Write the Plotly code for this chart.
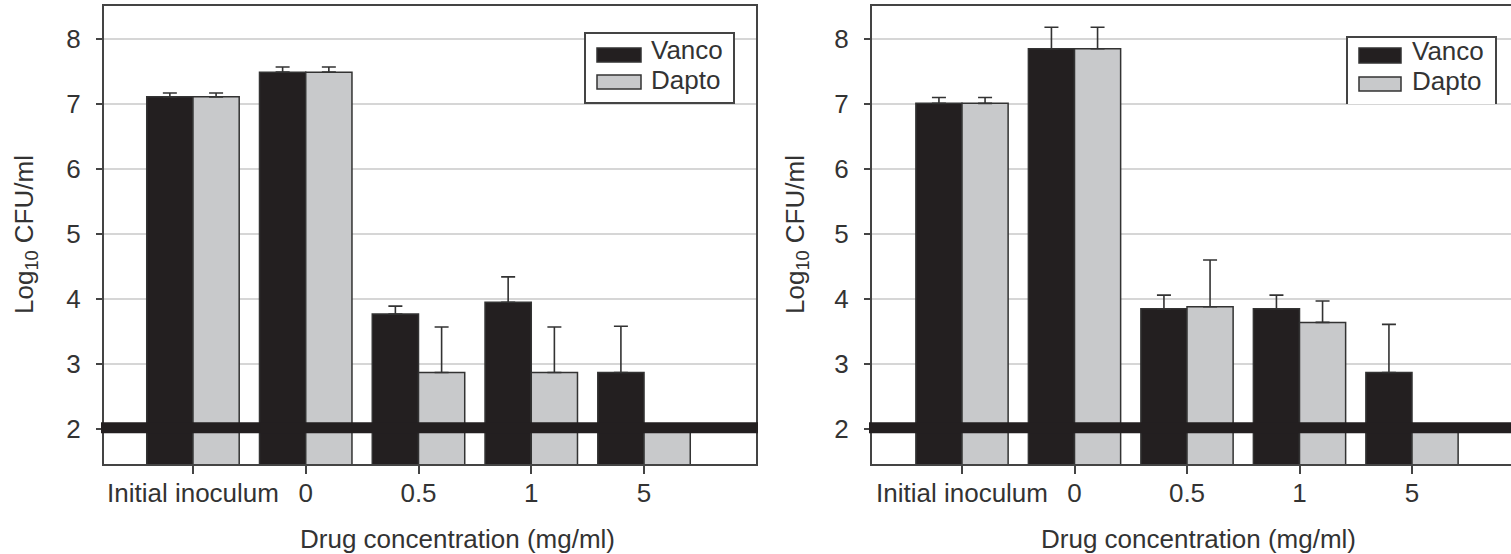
import plotly.graph_objects as go

# ---------------- data ----------------
categories = ["Initial inoculum", "0", "0.5", "1", "5"]
series_names = ["Vanco", "Dapto"]

left_vanco = [7.11, 7.49, 3.77, 3.95, 2.87]
left_vanco_err = [0.06, 0.08, 0.12, 0.39, 0.71]
left_dapto = [7.11, 7.49, 2.87, 2.87, 2.00]
left_dapto_err = [0.06, 0.08, 0.70, 0.70, 0.0]

right_vanco = [7.01, 7.85, 3.85, 3.85, 2.87]
right_vanco_err = [0.09, 0.33, 0.21, 0.21, 0.74]
right_dapto = [7.01, 7.85, 3.88, 3.64, 2.00]
right_dapto_err = [0.09, 0.33, 0.72, 0.33, 0.0]

detection_limit = 2.02
y_ticks = [2, 3, 4, 5, 6, 7, 8]

# ---------------- styling ----------------
W, H = 1511, 554
FONT = "Liberation Sans, Arial, sans-serif"
TXT = "#333333"
BLACK = "#231f20"
GREY = "#c8c9cb"
EDGE = "#333333"
FRAME = "#444444"
GRID = "#d6d6d6"

def px_x(p):
    return p / W

def px_y(p):
    return 1 - p / H

xpos = list(range(len(categories)))

fig = go.Figure()

def add_panel(vanco, verr, dapto, derr, xa, ya):
    for name, vals, errs, col in [(series_names[0], vanco, verr, BLACK),
                                  (series_names[1], dapto, derr, GREY)]:
        fig.add_trace(go.Bar(
            x=xpos, y=vals, name=name, xaxis=xa, yaxis=ya,
            marker=dict(color=col, line=dict(color=EDGE, width=1.5)),
            error_y=dict(type="data", array=errs, arrayminus=[0] * len(errs),
                         symmetric=False, color=EDGE, thickness=1.6, width=7),
            showlegend=False, hoverinfo="skip",
        ))

add_panel(left_vanco, left_vanco_err, left_dapto, left_dapto_err, "x", "y")
add_panel(right_vanco, right_vanco_err, right_dapto, right_dapto_err, "x2", "y2")

ydom = [px_y(464), px_y(6)]
yrange = [2 - 35 / 65, 2 + 423 / 65]

xcommon = dict(
    tickmode="array", tickvals=xpos, ticktext=categories,
    ticks="outside", ticklen=8, tickwidth=1.5, tickcolor=FRAME,
    showline=True, linecolor=FRAME, linewidth=2, mirror=True,
    showgrid=False, zeroline=False, layer="below traces",
    tickfont=dict(family=FONT, size=26, color=TXT),
    ticklabelstandoff=-3,
)
ycommon = dict(
    range=yrange, domain=ydom, tickmode="array", tickvals=y_ticks,
    ticks="outside", ticklen=6, tickwidth=1.5, tickcolor=FRAME,
    showline=True, linecolor=FRAME, linewidth=2,
    showgrid=True, gridcolor=GRID, gridwidth=1.5, zeroline=False,
    tickfont=dict(family=FONT, size=26, color=TXT),
    ticklabelstandoff=10,
)

fig.update_layout(
    width=W, height=H,
    margin=dict(l=0, r=0, t=0, b=0),
    paper_bgcolor="white", plot_bgcolor="white",
    barmode="group", bargap=0.18, bargroupgap=0,
    xaxis=dict(domain=[px_x(104), px_x(756)], range=[-0.789, 4.993],
               anchor="y", **xcommon),
    yaxis=dict(anchor="x", mirror=True, **ycommon),
    xaxis2=dict(domain=[px_x(872), 1.0], range=[-0.8, 4.88],
                anchor="y2", **xcommon),
    yaxis2=dict(anchor="x2", mirror=False, **ycommon),
)

# detection-limit line
shapes = [
    dict(type="line", xref="paper", yref="y", x0=px_x(101), x1=px_x(758),
         y0=detection_limit, y1=detection_limit,
         line=dict(color=BLACK, width=11), layer="above"),
    dict(type="line", xref="paper", yref="y2", x0=px_x(869), x1=1.0,
         y0=detection_limit, y1=detection_limit,
         line=dict(color=BLACK, width=11), layer="above"),
]

annotations = []

# custom legends
def add_legend(bx0, bx1, by0, by1, sx0, sx1, sy, tx, ty, draw_bottom=True):
    if draw_bottom:
        shapes.append(dict(type="rect", xref="paper", yref="paper",
                           x0=px_x(bx0), x1=px_x(bx1), y0=px_y(by1), y1=px_y(by0),
                           line=dict(color=FRAME, width=2), fillcolor="white",
                           layer="above"))
    else:
        shapes.append(dict(type="rect", xref="paper", yref="paper",
                           x0=px_x(bx0), x1=px_x(bx1), y0=px_y(by1), y1=px_y(by0),
                           line=dict(width=0), fillcolor="white", layer="above"))
        shapes.append(dict(type="path", xref="paper", yref="paper",
                           path=f"M {px_x(bx0)} {px_y(by1)} L {px_x(bx0)} {px_y(by0)} "
                                f"L {px_x(bx1)} {px_y(by0)} L {px_x(bx1)} {px_y(by1)}",
                           line=dict(color=FRAME, width=2), layer="above"))
    for (yy0, yy1), yt, col, name in zip(sy, ty, [BLACK, GREY], series_names):
        shapes.append(dict(type="rect", xref="paper", yref="paper",
                           x0=px_x(sx0), x1=px_x(sx1), y0=px_y(yy1), y1=px_y(yy0),
                           line=dict(color=EDGE, width=1.5), fillcolor=col,
                           layer="above"))
        annotations.append(dict(xref="paper", yref="paper", x=px_x(tx),
                                y=px_y(yt), text=name, showarrow=False,
                                xanchor="left", yanchor="middle",
                                font=dict(family=FONT, size=26, color=TXT)))

add_legend(585, 734, 33, 103, 597, 641, [(48, 62), (75, 89)], 649, [50, 80])
add_legend(1347, 1496, 37, 104, 1359, 1401, [(48, 63), (77, 91)], 1410, [51, 81],
           draw_bottom=False)

# axis titles
for xc in (25, 796):
    annotations.append(dict(xref="paper", yref="paper", x=px_x(xc), y=px_y(235),
                            text="Log<sub>10</sub> CFU/ml", textangle=-90,
                            showarrow=False, xanchor="center", yanchor="middle",
                            font=dict(family=FONT, size=26, color=TXT)))
for xc in (457, 1198):
    annotations.append(dict(xref="paper", yref="paper", x=px_x(xc), y=px_y(539),
                            text="Drug concentration (mg/ml)", showarrow=False,
                            xanchor="center", yanchor="middle",
                            font=dict(family=FONT, size=26, color=TXT)))

fig.update_layout(shapes=shapes, annotations=annotations)
fig.write_html(
    "out.html",
    config={"displayModeBar": False},
    post_script="document.body.style.margin='0px';document.body.style.overflow='hidden';",
)
